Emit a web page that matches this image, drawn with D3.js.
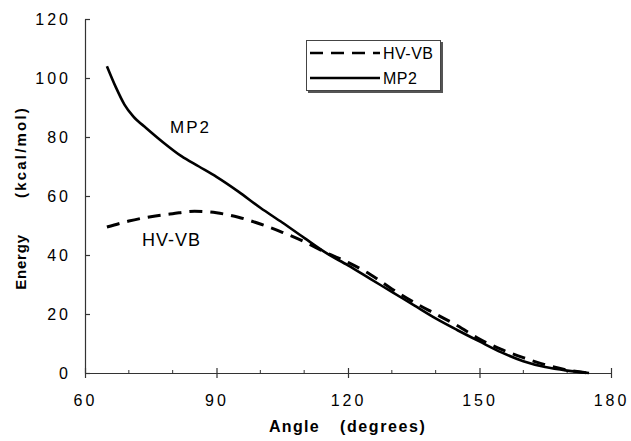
<!DOCTYPE html>
<html>
<head>
<meta charset="utf-8">
<script src="https://cdn.jsdelivr.net/npm/d3@7.9.0/dist/d3.min.js"></script>
<style>
  html, body { margin: 0; padding: 0; background: #fff; }
  svg { display: block; font-family: Arial, "Liberation Sans", sans-serif; }
</style>
</head>
<body>
<div id="chart"></div>
<script>
// angles (degrees) and energies (kcal/mol)
const mp2Angle = [65, 67, 69, 71, 74, 78, 82, 86, 90, 95, 100, 105, 110, 115, 120, 125, 130, 135, 140, 145, 150, 155, 160, 165, 170, 175];
const mp2Energy = [104, 97, 91, 87, 83, 78, 73.5, 70, 66.5, 61.5, 56, 51, 45.8, 40.7, 36.5, 32, 27.5, 23, 18.5, 14.5, 10.7, 7, 4, 2, 0.8, 0];

const hvAngle = [65, 70, 75, 80, 85, 90, 95, 100, 105, 110, 115, 120, 125, 130, 135, 140, 145, 150, 155, 160, 165, 170, 175];
const hvEnergy = [49.5, 51.5, 53, 54, 54.8, 54.3, 52.8, 50.5, 47.7, 44.5, 40.8, 37.5, 33.5, 28.5, 24, 20, 16, 11.5, 8, 5.2, 2.8, 1, 0];

const xTicks = [60, 90, 120, 150, 180];
const xMinor = [70, 80, 100, 110, 130, 140, 160, 170];
const yTicks = [0, 20, 40, 60, 80, 100, 120];

const seriesNames = ["HV-VB", "MP2"];

const width = 631;
const height = 441;

const x = d3.scaleLinear().domain([60, 180]).range([85, 611]);
const y = d3.scaleLinear().domain([0, 120]).range([373, 19]);

const svg = d3.select("#chart")
  .append("svg")
  .attr("width", width)
  .attr("height", height);

// axes
const xAxis = svg.append("g")
  .attr("transform", `translate(0,${y(0)})`)
  .call(d3.axisBottom(x).tickValues(xTicks).tickSize(5).tickSizeOuter(0).tickFormat(d3.format("d")));
xAxis.selectAll(".tick line").attr("y1", -5);

svg.append("g")
  .attr("transform", `translate(0,${y(0)})`)
  .selectAll("line")
  .data(xMinor)
  .join("line")
  .attr("x1", (d) => x(d)).attr("x2", (d) => x(d))
  .attr("y1", -3).attr("y2", 1)
  .attr("stroke", "#333");

const yAxis = svg.append("g")
  .attr("transform", `translate(${x(60)},0)`)
  .call(d3.axisLeft(y).tickValues(yTicks).tickSize(4).tickSizeOuter(0));
yAxis.selectAll(".tick line").attr("x2", 5);

svg.selectAll(".domain").attr("stroke", "#333").attr("stroke-width", 1.2);
svg.selectAll(".tick line").attr("stroke", "#333").attr("stroke-width", 1.2);

xAxis.selectAll(".tick text")
  .attr("y", 22)
  .attr("fill", "#000")
  .style("font-size", "16px")
  .style("letter-spacing", "3px");

yAxis.selectAll(".tick text")
  .attr("x", -14)
  .attr("fill", "#000")
  .style("font-size", "16px")
  .style("letter-spacing", "3px");

// axis titles
svg.append("text")
  .attr("x", 269).attr("y", 432)
  .style("font-weight", "bold").style("font-size", "16px").style("letter-spacing", "1.3px")
  .text("Angle");
svg.append("text")
  .attr("x", 340).attr("y", 432)
  .style("font-weight", "bold").style("font-size", "16px").style("letter-spacing", "1.6px")
  .text("(degrees)");

svg.append("text")
  .attr("transform", "translate(26,262) rotate(-90)")
  .attr("text-anchor", "middle")
  .style("font-weight", "bold").style("font-size", "15px").style("letter-spacing", "0.8px")
  .text("Energy");
svg.append("text")
  .attr("transform", "translate(26,152) rotate(-90)")
  .attr("text-anchor", "middle")
  .style("font-weight", "bold").style("font-size", "15px").style("letter-spacing", "2.2px")
  .text("(kcal/mol)");

// lines
const line = d3.line()
  .x((d) => x(d[0]))
  .y((d) => y(d[1]))
  .curve(d3.curveMonotoneX);

const hvData = d3.zip(hvAngle, hvEnergy);
const mp2Data = d3.zip(mp2Angle, mp2Energy);

svg.append("path")
  .datum(hvData)
  .attr("d", line)
  .attr("fill", "none")
  .attr("stroke", "#000")
  .attr("stroke-width", 3)
  .attr("stroke-dasharray", "13,8");

svg.append("path")
  .datum(mp2Data)
  .attr("d", line)
  .attr("fill", "none")
  .attr("stroke", "#000")
  .attr("stroke-width", 2.6);

// inline labels
svg.append("text")
  .attr("x", 170).attr("y", 133)
  .style("font-size", "17px").style("letter-spacing", "2px")
  .text(seriesNames[1]);
svg.append("text")
  .attr("x", 142).attr("y", 246)
  .style("font-size", "18px").style("letter-spacing", "1px")
  .text(seriesNames[0]);

// legend
const lg = svg.append("g").attr("transform", "translate(306,40)");
lg.append("rect")
  .attr("x", 2).attr("y", 2).attr("width", 135).attr("height", 51)
  .attr("fill", "#555");
lg.append("rect")
  .attr("x", 0.5).attr("y", 0.5).attr("width", 134).attr("height", 50)
  .attr("fill", "#fff").attr("stroke", "#444").attr("stroke-width", 1);

const rows = lg.selectAll("g.row")
  .data(seriesNames)
  .join("g")
  .attr("class", "row")
  .attr("transform", (d, i) => `translate(0,${13 + i * 25})`);

rows.append("line")
  .attr("x1", 4).attr("x2", 74)
  .attr("stroke", "#000")
  .attr("stroke-width", 2.6)
  .attr("stroke-dasharray", (d, i) => (i === 0 ? "13,8" : null));

rows.append("text")
  .attr("x", 77).attr("y", 6)
  .style("font-size", "16px").style("letter-spacing", "0.5px")
  .text((d) => d);
</script>
</body>
</html>
